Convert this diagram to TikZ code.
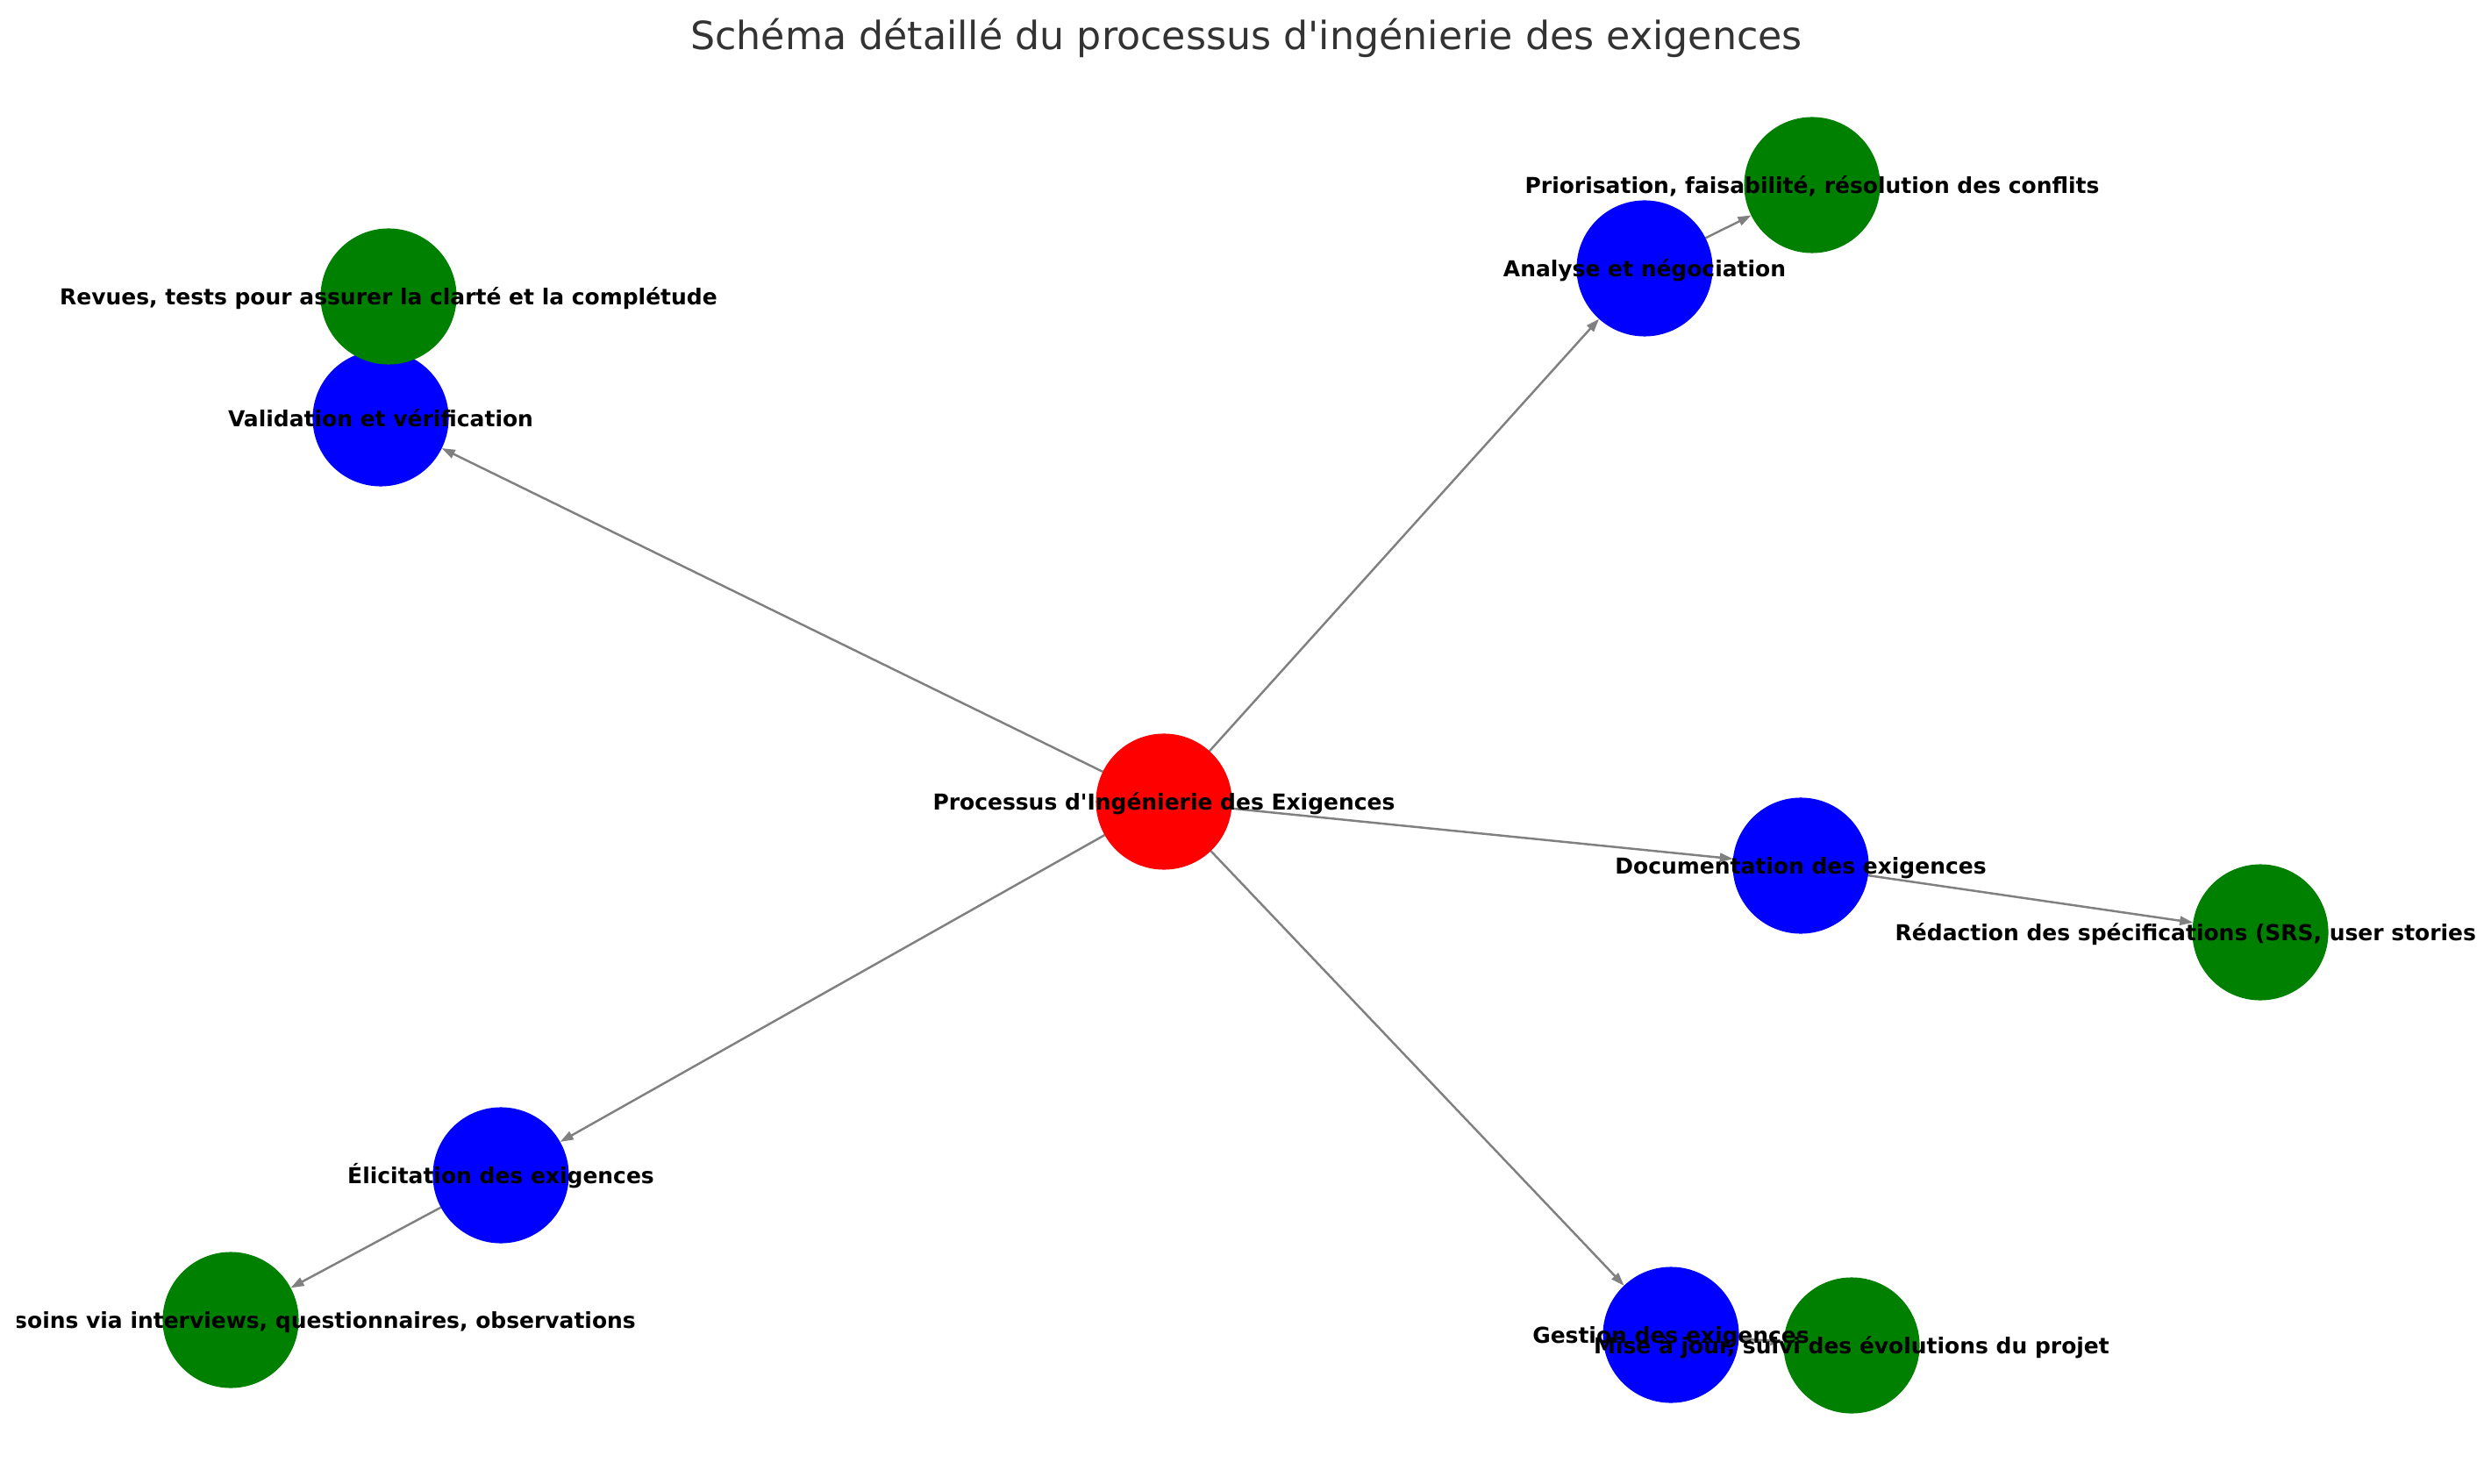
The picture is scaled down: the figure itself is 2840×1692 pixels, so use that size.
\documentclass[tikz,border=0pt]{standalone}
\usepackage{fontspec}
\setmainfont{DejaVu Sans}
\usetikzlibrary{arrows.meta,backgrounds}
\definecolor{EdgeClr}{rgb}{0.5,0.5,0.5}
\definecolor{RootClr}{rgb}{1,0,0}
\definecolor{StepClr}{rgb}{0,0,1}
\definecolor{TaskClr}{rgb}{0,0.50196,0}
\definecolor{TitleClr}{rgb}{0.2,0.2,0.2}

\begin{document}
\begin{tikzpicture}[x=0.01cm,y=-0.01cm,
  disc/.style={circle,minimum size=1.55cm,inner sep=0pt,outer sep=0pt},
  lbl/.style={font=\bfseries\fontsize{7.1}{8.5}\selectfont,text height=0.76em,text depth=0.24em,inner sep=0pt},
  edge/.style={draw=EdgeClr,line width=0.7pt,-{Triangle[length=4.3pt,width=2.9pt]}}]
\useasboundingbox (0,0) rectangle (2840,1692);

\node[disc,fill=RootClr] (R) at (1327,914) {};

\node[disc,fill=StepClr] (E) at (571,1340) {};
\node[disc,fill=StepClr] (A) at (1875,306) {};
\node[disc,fill=StepClr] (D) at (2053,987) {};
\node[disc,fill=StepClr] (V) at (434,477) {};
\node[disc,fill=StepClr] (G) at (1905,1522) {};

\node[disc,fill=TaskClr] (E1) at (263,1505) {};
\node[disc,fill=TaskClr] (A1) at (2066,211) {};
\node[disc,fill=TaskClr] (D1) at (2577,1063) {};
\node[disc,fill=TaskClr] (V1) at (443,338) {};
\node[disc,fill=TaskClr] (G1) at (2111,1534) {};

\begin{pgfonlayer}{background}
\foreach \s in {E,A,D,V,G}{
  \draw[edge] (R) -- (\s);
  \draw[edge] (\s) -- (\s1);
}
\end{pgfonlayer}

\begin{scope}
\clip (19,0) rectangle (2822,1692);
\node[lbl] at (R) {Processus d\textquotesingle Ingénierie des Exigences};
\node[lbl] at (E) {Élicitation des exigences};
\node[lbl] at (A) {Analyse et négociation};
\node[lbl] at (D) {Documentation des exigences};
\node[lbl] at (V) {Validation et vérification};
\node[lbl] at (G) {Gestion des exigences};
\node[lbl] at (E1) {Collecte des besoins via interviews, questionnaires, observations};
\node[lbl] at (A1) {Priorisation, faisabilité, résolution des conflits};
\node[lbl,anchor=west] at (2160,1063) {Rédaction des spécifications (SRS, user stories)};
\node[lbl] at (V1) {Revues, tests pour assurer la clarté et la complétude};
\node[lbl] at (G1) {Mise à jour, suivi des évolutions du projet};
\end{scope}

\node[anchor=base,inner sep=0pt,text=TitleClr,font=\fontsize{12.6}{15}\selectfont] (T) at (1421,57) {Schéma détaillé du processus d\textquotesingle ingénierie des exigences};

\end{tikzpicture}
\end{document}
